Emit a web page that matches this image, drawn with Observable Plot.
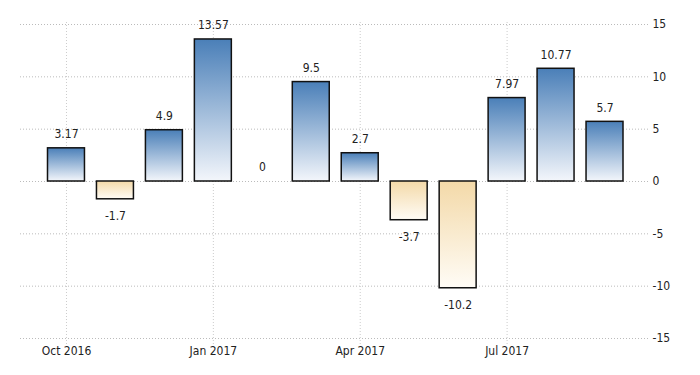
<!DOCTYPE html>
<html>
<head>
<meta charset="utf-8">
<script src="https://cdn.jsdelivr.net/npm/d3@7"></script>
<script src="https://cdn.jsdelivr.net/npm/@observablehq/plot@0.6"></script>
<style>
  html, body { margin: 0; padding: 0; background: #fff; }
  #chart svg { display: block; font-family: "DejaVu Sans", sans-serif; font-stretch: condensed; }
  #chart svg text { font-stretch: condensed; }
</style>
</head>
<body>
<div id="chart"></div>
<script>
const months = ["Oct 2016","Nov 2016","Dec 2016","Jan 2017","Feb 2017","Mar 2017","Apr 2017","May 2017","Jun 2017","Jul 2017","Aug 2017","Sep 2017"];
const values = [3.17, -1.7, 4.9, 13.57, 0, 9.5, 2.7, -3.7, -10.2, 7.97, 10.77, 5.7];
const xTicks = ["Oct 2016","Jan 2017","Apr 2017","Jul 2017"];
const yTicks = [-15, -10, -5, 0, 5, 10, 15];

const data = months.map((m, i) => ({month: m, value: values[i]}));
const pos = data.filter(d => d.value > 0);
const neg = data.filter(d => d.value < 0);

const W = 700, H = 375;
const svg = Plot.plot({
  width: W,
  height: H,
  marginTop: 24,
  marginBottom: 37,
  marginLeft: 20,
  marginRight: 50,
  style: {fontSize: "12px", color: "#222", background: "#fff"},
  x: {domain: months, range: [41.5, 629], paddingInner: 0.245, paddingOuter: 0.1225, round: false, axis: null},
  y: {domain: [-15, 15], axis: null},
  marks: [
    Plot.ruleY(yTicks, {stroke: "#bbb", strokeWidth: 1, strokeDasharray: "1,2"}),
    Plot.ruleX(xTicks, {x: d => d, stroke: "#ccc", strokeWidth: 1, strokeDasharray: "1,2", insetBottom: -6, insetTop: -2}),
    Plot.barY(pos, {x: "month", y: "value", fill: "url(#gpos)", stroke: "#111", strokeWidth: 1.5}),
    Plot.barY(neg, {x: "month", y: "value", fill: "url(#gneg)", stroke: "#111", strokeWidth: 1.5}),
    Plot.text(data.filter(d => d.value >= 0), {x: "month", y: "value", text: d => String(d.value), dy: -14, fill: "#222", fontSize: 12}),
    Plot.text(neg, {x: "month", y: "value", text: d => String(d.value), dy: 17, fill: "#222", fontSize: 12}),
    Plot.axisX({ticks: xTicks, tickSize: 0, tickPadding: 8, label: null, fill: "#222"}),
    Plot.axisY({anchor: "right", ticks: yTicks, tickSize: 0, tickPadding: 2, textAnchor: "start", tickFormat: d => String(d), label: null, fill: "#222"})
  ]
});

const defs = d3.select(svg).insert("defs", ":first-child");
const gp = defs.append("linearGradient").attr("id", "gpos").attr("x1", 0).attr("y1", 0).attr("x2", 0).attr("y2", 1);
gp.append("stop").attr("offset", "0%").attr("stop-color", "#4a7fb8");
gp.append("stop").attr("offset", "100%").attr("stop-color", "#f3f6fb");
const gn = defs.append("linearGradient").attr("id", "gneg").attr("x1", 0).attr("y1", 0).attr("x2", 0).attr("y2", 1);
gn.append("stop").attr("offset", "0%").attr("stop-color", "#f3d9a8");
gn.append("stop").attr("offset", "100%").attr("stop-color", "#fffcf6");

document.getElementById("chart").appendChild(svg);
</script>
</body>
</html>
